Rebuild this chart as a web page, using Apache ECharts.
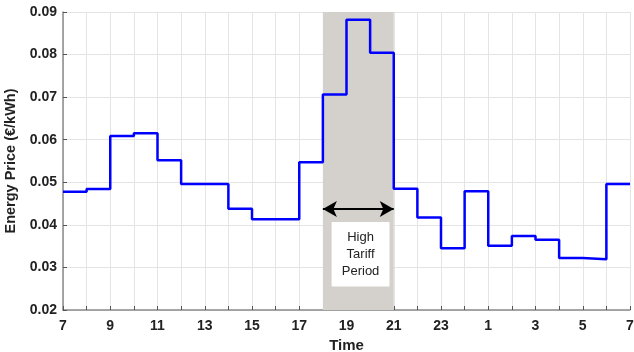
<!DOCTYPE html>
<html><head><meta charset="utf-8">
<script src="https://cdn.jsdelivr.net/npm/echarts@6/dist/echarts.min.js"></script>
<style>html,body{margin:0;padding:0;background:#fff}#c{width:634px;height:352px}</style>
</head><body><div id="c"></div>
<script>
// Hours of the day, starting at 7:00, one price per hour slot
const startHour = 7;
const prices = [0.0478, 0.0484, 0.0609, 0.0615, 0.0552, 0.0496, 0.0496, 0.0438, 0.0413, 0.0413, 0.0547, 0.0706,
                0.0882, 0.0804, 0.0485, 0.0417, 0.0345, 0.0479, 0.0351, 0.0374, 0.0365, 0.0322, 0.0319, 0.0496];
const yTicks = [0.02, 0.03, 0.04, 0.05, 0.06, 0.07, 0.08, 0.09];
const highTariff = [18, 21];       // clock hours
const arrowValue = 0.0437;
const boxRange = {x: [11.37, 13.82], y: [0.0255, 0.0407]};
const boxText = 'High\nTariff\nPeriod';

const data = prices.map((v, i) => [i, v]);
data.push([prices.length, prices[prices.length - 1]]);
const toOffset = h => (h - startHour + 24) % 24;

const chart = echarts.init(document.getElementById('c'));
chart.setOption({
  animation: false,
  grid: {left: 63, right: 4, top: 12, bottom: 42, containLabel: false, outerBoundsMode: 'none'},
  xAxis: {
    type: 'value', min: 0, max: 24, interval: 1,
    name: 'Time', nameLocation: 'middle', nameGap: 26,
    nameTextStyle: {fontFamily: 'Liberation Sans', fontWeight: 'bold', fontSize: 15, color: '#222'},
    axisLine: {lineStyle: {color: '#8a8a8a', width: 1.5}},
    axisTick: {inside: true, length: 4, lineStyle: {color: '#555'}},
    axisLabel: {fontFamily: 'Liberation Sans', fontWeight: 'bold', fontSize: 14, color: '#222', margin: 9,
      formatter: v => (v % 2 === 0 ? String((v + startHour) % 24 === 0 ? 24 : (v + startHour) % 24) : '')},
    splitLine: {show: true, lineStyle: {color: '#e4e4e4', width: 1}}
  },
  yAxis: {
    type: 'value', min: yTicks[0], max: yTicks[yTicks.length - 1], interval: 0.01,
    name: 'Energy Price (€/kWh)', nameLocation: 'middle', nameGap: 39, nameRotate: 90,
    nameTextStyle: {fontFamily: 'Liberation Sans', fontWeight: 'bold', fontSize: 14.5, color: '#222'},
    axisLine: {show: true, lineStyle: {color: '#8a8a8a', width: 1.5}},
    axisTick: {show: true, inside: true, length: 4, lineStyle: {color: '#555'}},
    axisLabel: {fontFamily: 'Liberation Sans', fontWeight: 'bold', fontSize: 14, color: '#222', margin: 6,
      formatter: v => v.toFixed(2)},
    splitLine: {show: true, lineStyle: {color: '#e4e4e4', width: 1}}
  },
  series: [{
    type: 'line', step: 'end', data: data, symbol: 'none',
    lineStyle: {color: '#0000ff', width: 2.5}, z: 5,
    markArea: {
      silent: true,
      data: [
        [{xAxis: toOffset(highTariff[0]), itemStyle: {color: '#d4d0cb'}}, {xAxis: toOffset(highTariff[1])}],
        [{xAxis: boxRange.x[0], yAxis: boxRange.y[0], itemStyle: {color: '#ffffff'},
          label: {show: true, position: 'inside', formatter: boxText, fontFamily: 'Liberation Sans',
                  fontSize: 13, color: '#222', lineHeight: 17}},
         {xAxis: boxRange.x[1], yAxis: boxRange.y[1]}]
      ],
      z: 1
    },
    markLine: {
      silent: true, symbol: ['arrow', 'arrow'], symbolSize: [12, 14],
      lineStyle: {color: '#000', width: 2, type: 'solid'}, label: {show: false},
      data: [[{coord: [toOffset(highTariff[0]), arrowValue]}, {coord: [toOffset(highTariff[1]), arrowValue]}]]
    }
  }]
});
</script></body></html>
